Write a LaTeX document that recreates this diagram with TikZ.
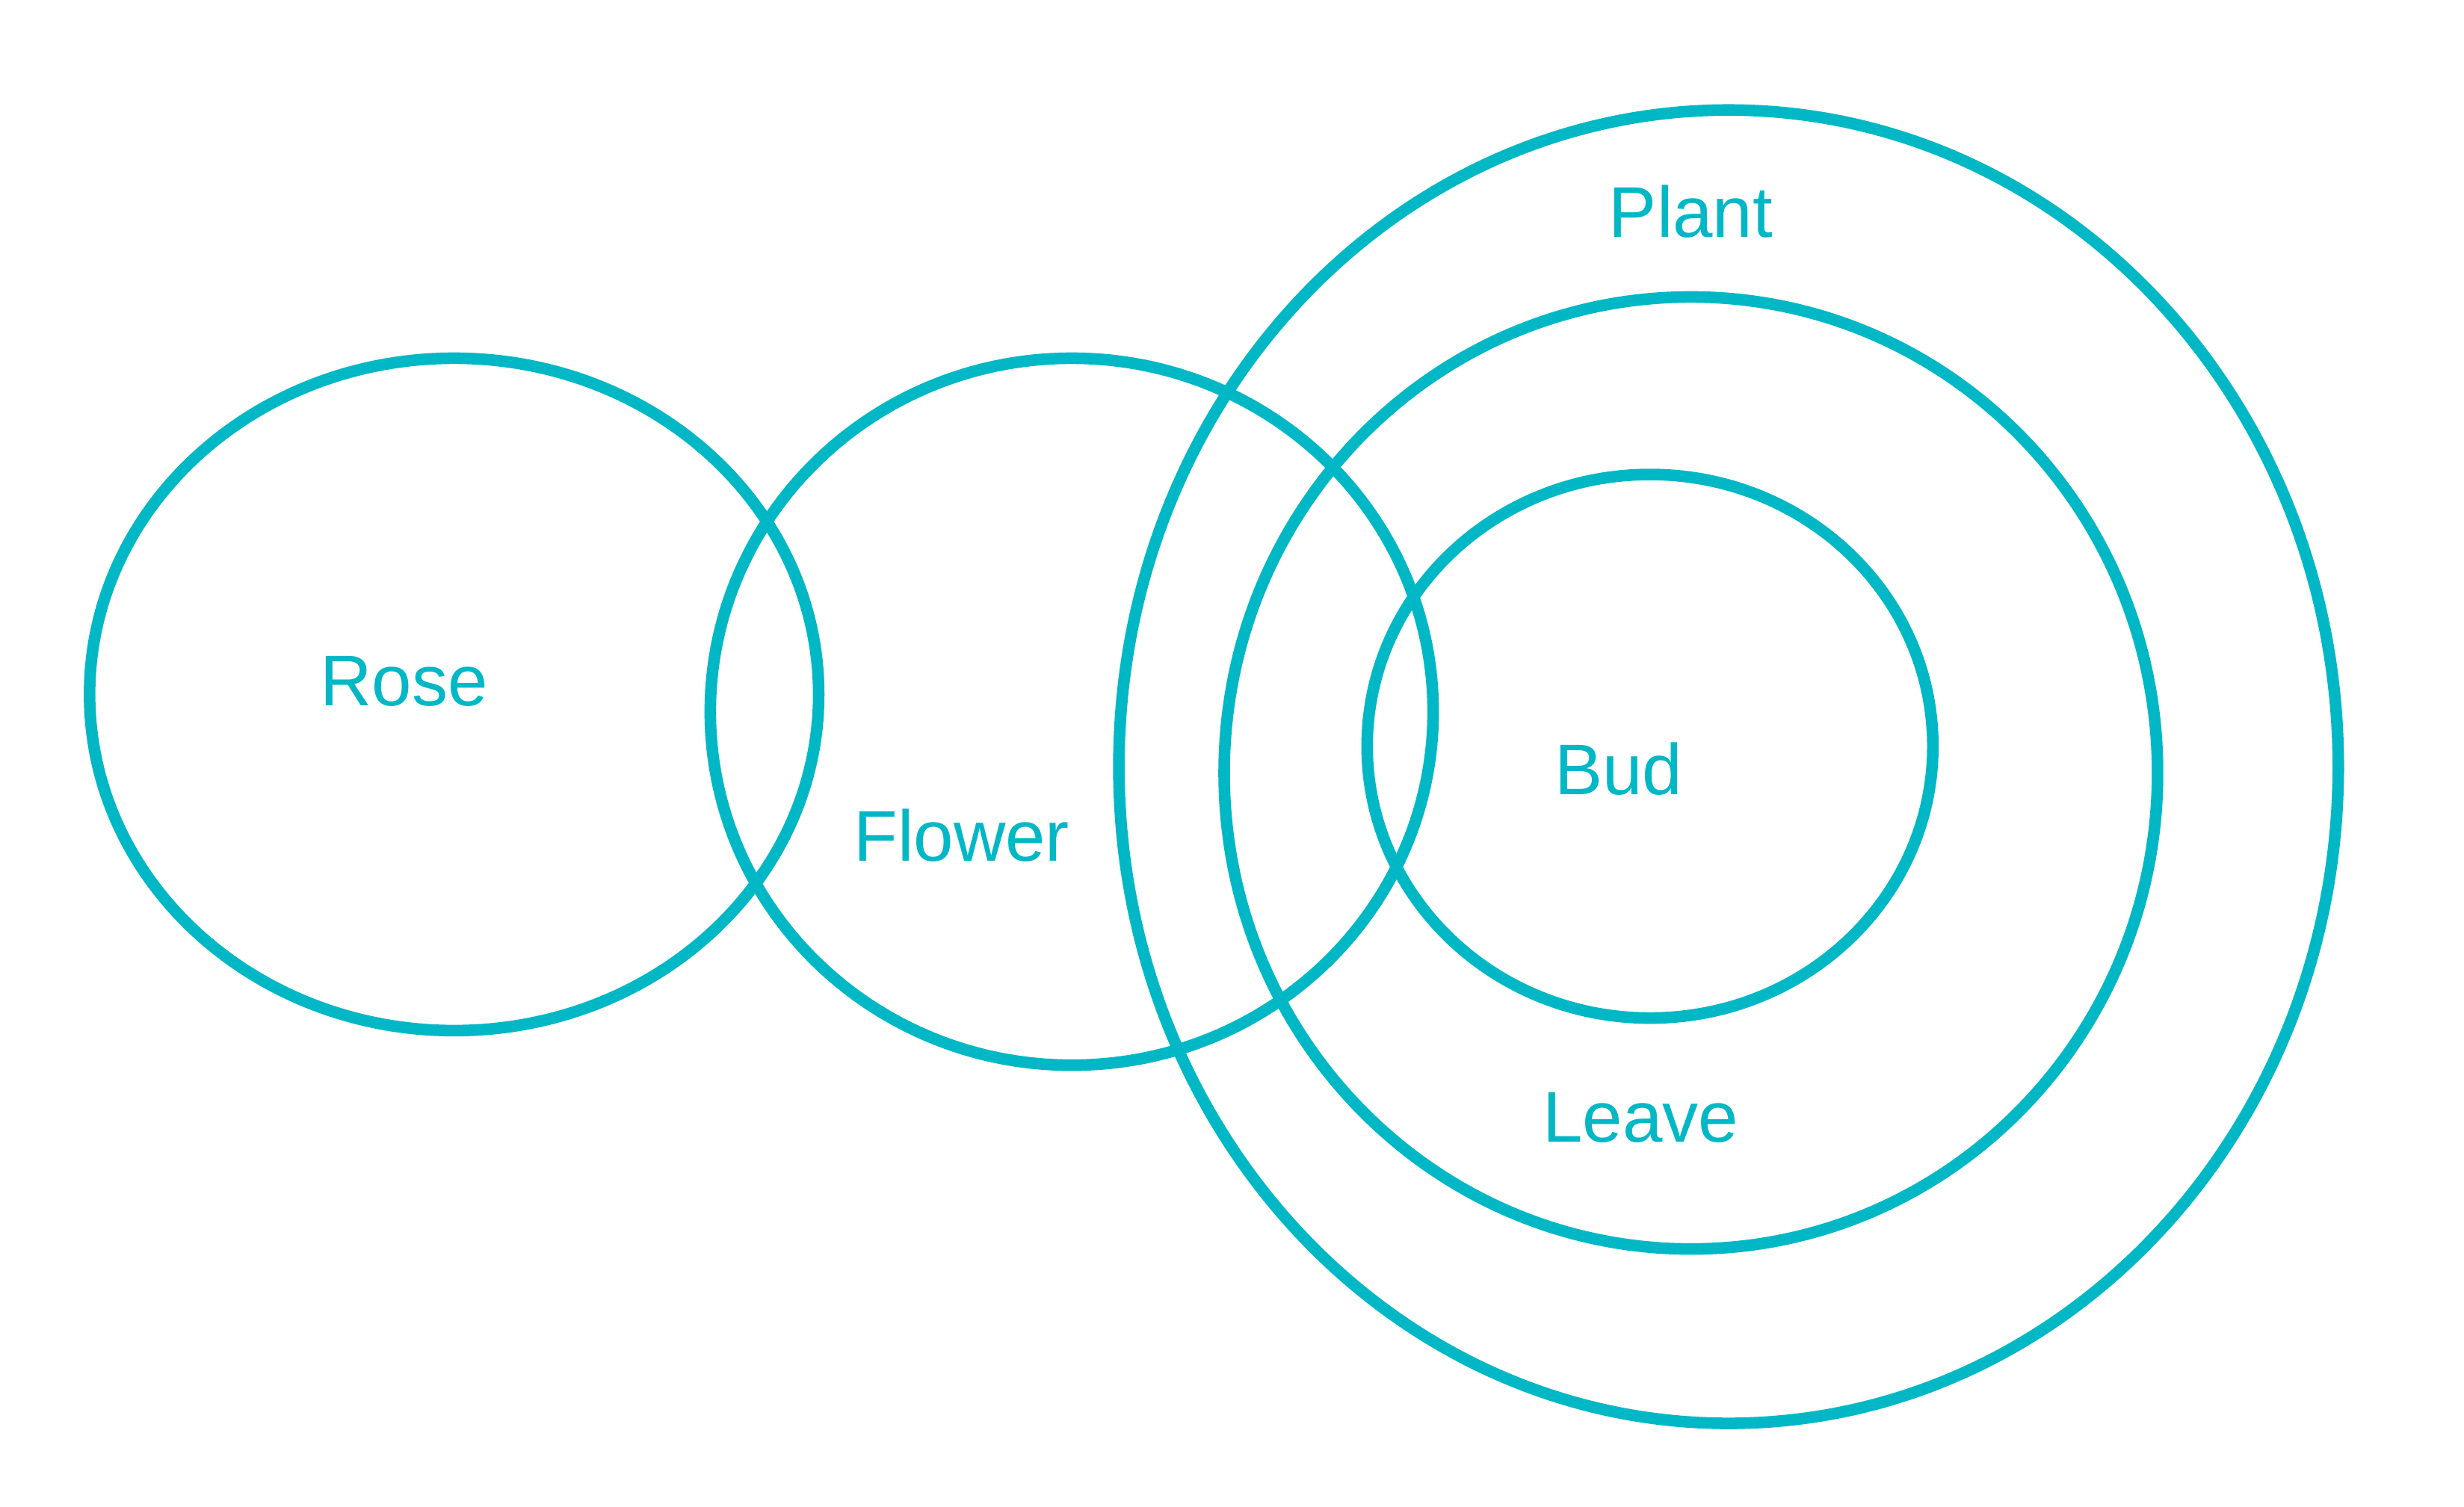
\documentclass[tikz,border=0pt]{standalone}
\usepackage{fontspec}
\setmainfont{Liberation Sans}
\definecolor{tbteal}{HTML}{00B8C5}
\tikzset{
  conjunto/.style={draw=tbteal,line width=2.1pt},
  rotulo/.style={text=tbteal,font=\fontsize{13}{15}\selectfont,anchor=base,inner sep=0pt}
}

\begin{document}
\begin{tikzpicture}[x=0.01cm,y=-0.01cm]

\useasboundingbox (0,0) rectangle (1568,959);

% Rose
\draw[conjunto] (289,442) ellipse [x radius=232,y radius=214];

% Flower
\draw[conjunto] (682,453) ellipse [x radius=230,y radius=225];

% Plant
\draw[conjunto] (1100,488) ellipse [x radius=388,y radius=418];

% Leave
\draw[conjunto] (1076,492) ellipse [x radius=297,y radius=303];

% Bud
\draw[conjunto] (1050,475) ellipse [x radius=180,y radius=173];

% rotulos
\node[rotulo] (rose) at (257,449) {Rose};
\node[rotulo] (flower) at (612,548) {Flower};
\node[rotulo] (plant) at (1076,151) {Plant};
\node[rotulo] (bud) at (1030,506) {Bud};
\node[rotulo] (leave) at (1044,727) {Leave};

\end{tikzpicture}
\end{document}
